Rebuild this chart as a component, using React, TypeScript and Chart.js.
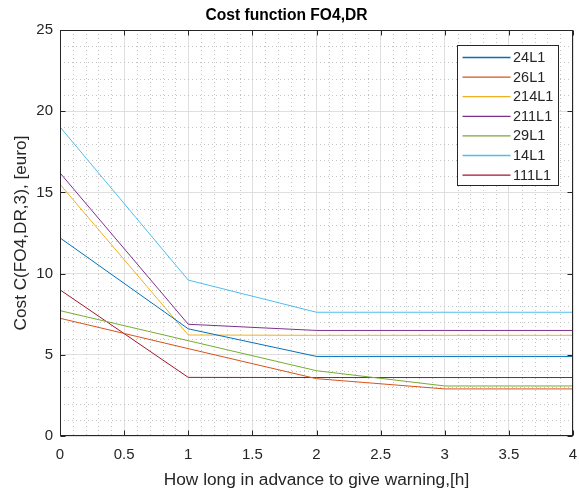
import React, { useEffect, useRef } from 'react';
import { Chart, registerables } from 'chart.js';

Chart.register(...registerables);

const xValues = [0, 1, 2, 3, 4];
const seriesNames = ['24L1', '26L1', '214L1', '211L1', '29L1', '14L1', '111L1'];
const s24L1 = [12.2, 6.6, 4.9, 4.9, 4.9];
const s26L1 = [7.25, 5.38, 3.53, 2.9, 2.9];
const s214L1 = [15.5, 6.22, 6.2, 6.2, 6.2];
const s211L1 = [16.2, 6.88, 6.5, 6.5, 6.5];
const s29L1 = [7.72, 5.87, 4.02, 3.08, 3.08];
const s14L1 = [19.03, 9.6, 7.62, 7.62, 7.62];
const s111L1 = [9.0, 3.61, 3.6, 3.6, 3.6];
const seriesValues = [s24L1, s26L1, s214L1, s211L1, s29L1, s14L1, s111L1];
const seriesColors = ['#0072BD', '#D95319', '#EDB120', '#7E2F8E', '#77AC30', '#4DBEEE', '#A2142F'];
const xTicks = [0, 0.5, 1, 1.5, 2, 2.5, 3, 3.5, 4];
const yTicks = [0, 5, 10, 15, 20, 25];
const xMinorStep = 0.1;
const yMinorStep = 1;

const FONT = 'Liberation Sans, Arial, Helvetica, sans-serif';

const matlabPlugin = {
  id: 'matlabDecor',
  beforeDatasetsDraw(chart: any) {
    const { ctx, chartArea: a, scales } = chart;
    const xs = scales.x;
    const ys = scales.y;
    ctx.save();
    ctx.strokeStyle = '#c4c4c4';
    ctx.lineWidth = 1;
    ctx.setLineDash([1, 3]);
    for (let i = 0; i <= Math.round((xs.max - xs.min) / xMinorStep); i++) {
      const v = xs.min + i * xMinorStep;
      if (Math.abs(v / 0.5 - Math.round(v / 0.5)) < 1e-6) continue;
      const px = Math.round(xs.getPixelForValue(v)) + 0.5;
      ctx.beginPath();
      ctx.moveTo(px, a.top);
      ctx.lineTo(px, a.bottom);
      ctx.stroke();
    }
    for (let i = 0; i <= Math.round((ys.max - ys.min) / yMinorStep); i++) {
      const v = ys.min + i * yMinorStep;
      if (Math.abs(v / 5 - Math.round(v / 5)) < 1e-6) continue;
      const py = Math.round(ys.getPixelForValue(v)) + 0.5;
      ctx.beginPath();
      ctx.moveTo(a.left, py);
      ctx.lineTo(a.right, py);
      ctx.stroke();
    }
    ctx.restore();
  },
  afterDatasetsDraw(chart: any) {
    const { ctx, chartArea: a, scales } = chart;
    const xs = scales.x;
    const ys = scales.y;
    ctx.save();
    ctx.strokeStyle = '#262626';
    ctx.lineWidth = 1;
    ctx.setLineDash([]);
    const L = Math.round(a.left) + 0.5;
    const R = Math.round(a.right) - 0.5;
    const T = Math.round(a.top) + 0.5;
    const B = Math.round(a.bottom) - 0.5;
    ctx.strokeRect(L, T, R - L, B - T);
    const tl = 5;
    ctx.beginPath();
    xTicks.forEach((v) => {
      const px = Math.round(xs.getPixelForValue(v)) + 0.5;
      ctx.moveTo(px, B);
      ctx.lineTo(px, B - tl);
      ctx.moveTo(px, T);
      ctx.lineTo(px, T + tl);
    });
    yTicks.forEach((v) => {
      const py = Math.round(ys.getPixelForValue(v)) + 0.5;
      ctx.moveTo(L, py);
      ctx.lineTo(L + tl, py);
      ctx.moveTo(R, py);
      ctx.lineTo(R - tl, py);
    });
    ctx.stroke();

    // legend
    const lx = 457.5;
    const ly = 45.5;
    const lw = 101;
    const rowH = 19.6;
    const lh = 140;
    ctx.fillStyle = '#ffffff';
    ctx.fillRect(lx, ly, lw, lh);
    ctx.strokeStyle = '#262626';
    ctx.strokeRect(lx, ly, lw, lh);
    ctx.font = `14.5px ${FONT}`;
    ctx.textBaseline = 'middle';
    ctx.textAlign = 'left';
    chart.data.datasets.forEach((ds: any, i: number) => {
      const cy = ly + 12 + i * rowH;
      ctx.strokeStyle = ds.borderColor;
      ctx.lineWidth = 1.3;
      ctx.beginPath();
      ctx.moveTo(lx + 5, cy);
      ctx.lineTo(lx + 53, cy);
      ctx.stroke();
      ctx.fillStyle = '#262626';
      ctx.fillText(ds.label, lx + 55.5, cy + 0.5);
    });
    ctx.restore();
  },
};

export default function App() {
  const ref = useRef<HTMLCanvasElement | null>(null);
  useEffect(() => {
    document.body.style.margin = '0';
    const canvas = ref.current;
    if (!canvas) return;
    const chart = new Chart(canvas, {
      type: 'line',
      data: {
        datasets: seriesNames.map((name, i) => ({
          label: name,
          data: xValues.map((x, j) => ({ x, y: seriesValues[i][j] })),
          borderColor: seriesColors[i],
          backgroundColor: seriesColors[i],
          borderWidth: 1,
          pointRadius: 0,
          tension: 0,
          fill: false,
        })),
      },
      options: {
        animation: false,
        responsive: false,
        maintainAspectRatio: false,
        events: [],
        layout: { padding: { left: 0, right: 6, top: 0, bottom: 0 } },
        plugins: {
          legend: { display: false },
          tooltip: { enabled: false },
          title: {
            display: true,
            text: 'Cost function FO4,DR',
            color: '#000000',
            font: { family: FONT, size: 15.6, weight: 'bold' },
            padding: { top: 6.4, bottom: 4.9 },
          },
        },
        scales: {
          x: {
            type: 'linear',
            min: 0,
            max: 4,
            afterFit: (s: any) => { s.height = 58; s.paddingLeft = 0; s.paddingRight = 0; },
            afterBuildTicks: (s: any) => { s.ticks = xTicks.map((v) => ({ value: v })); },
            ticks: {
              color: '#262626',
              font: { family: FONT, size: 15 },
              padding: 10,
              maxRotation: 0,
              autoSkip: false,
              callback: (v: any) => String(v),
            },
            grid: { color: '#dfdfdf', lineWidth: 1, drawTicks: false },
            border: { display: false },
            title: {
              display: true,
              text: 'How long in advance to give warning,[h]',
              color: '#262626',
              font: { family: FONT, size: 17.3 },
              padding: { top: 0, bottom: 3.6 },
            },
          },
          y: {
            type: 'linear',
            min: 0,
            max: 25,
            afterFit: (s: any) => { s.width = 60; s.paddingTop = 0; s.paddingBottom = 0; },
            afterBuildTicks: (s: any) => { s.ticks = yTicks.map((v) => ({ value: v })); },
            ticks: {
              color: '#262626',
              font: { family: FONT, size: 15 },
              padding: 7,
              autoSkip: false,
              callback: (v: any) => String(v),
            },
            grid: { color: '#dfdfdf', lineWidth: 1, drawTicks: false },
            border: { display: false },
            title: {
              display: true,
              text: 'Cost C(FO4,DR,3), [euro]',
              color: '#262626',
              font: { family: FONT, size: 17.2 },
              padding: { top: 11.3, bottom: 0 },
            },
          },
        },
      },
      plugins: [matlabPlugin],
    } as any);
    return () => chart.destroy();
  }, []);
  return (
    <div style={{ width: 579, height: 494 }}>
      <canvas ref={ref} width={579} height={494} style={{ display: 'block', width: 579, height: 494 }} />
    </div>
  );
}
